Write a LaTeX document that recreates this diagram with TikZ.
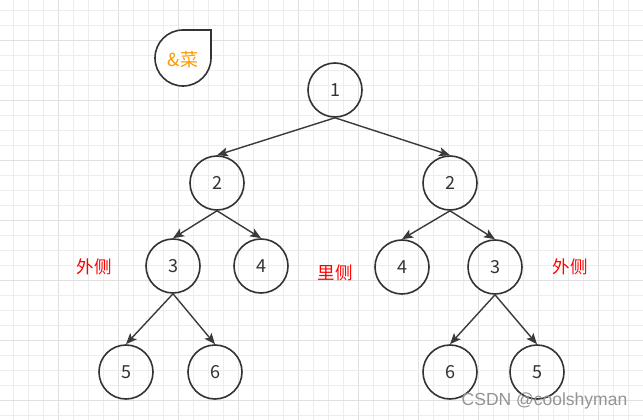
\documentclass[tikz,border=0pt]{standalone}
\usepackage{fontspec}
\setmainfont{Noto Sans CJK SC}
\newfontfamily\wmfont{Liberation Sans}
\usetikzlibrary{arrows.meta}
\definecolor{gridminor}{HTML}{EDEDED}
\definecolor{gridmajor}{HTML}{E0E0E0}
\definecolor{ink}{HTML}{333333}
\definecolor{edgeink}{HTML}{3A3A3A}
\definecolor{orangetxt}{HTML}{FF9900}
\tikzset{
  tnode/.style={circle, draw=ink, line width=1.6pt, minimum size=54pt, inner sep=0pt,
    font=\fontsize{18}{21}\selectfont, text=ink},
  conn/.style={draw=edgeink, line width=1.4pt, -{Stealth[length=11pt,width=9pt,inset=2.5pt]}},
  side/.style={text=red, font=\fontsize{17.5}{20}\selectfont},
}
\begin{document}
\begin{tikzpicture}[x=1pt,y=-1pt]
\useasboundingbox (0,0) rectangle (643,420);
\fill[white] (0,0) rectangle (643,420);
% grid
\foreach \k in {0,...,42} {
  \pgfmathsetmacro{\gx}{13.3+15*\k}
  \pgfmathtruncatemacro{\m}{mod(\k,4)}
  \ifnum\m=3 \draw[gridmajor, line width=0.8pt] (\gx,0) -- (\gx,420);
  \else \draw[gridminor, line width=0.8pt] (\gx,0) -- (\gx,420); \fi
}
\foreach \k in {0,...,27} {
  \pgfmathsetmacro{\gy}{10+15*\k}
  \pgfmathtruncatemacro{\m}{mod(\k,4)}
  \ifnum\m=2 \draw[gridmajor, line width=0.8pt] (0,\gy) -- (643,\gy);
  \else \draw[gridminor, line width=0.8pt] (0,\gy) -- (643,\gy); \fi
}
% drop shape
\draw[ink, line width=1.6pt, fill=white] (211,30) -- (211,58) arc (0:90:28) arc (90:180:28) arc (180:270:28) -- cycle;
\node[text=orangetxt, font=\fontsize{18}{21}\selectfont] (cai) at (183,60) {\&菜};
% tree nodes
\node[tnode] (n1) at (335,90) {1};
\node[tnode] (l2) at (217,183) {2};
\node[tnode] (r2) at (450,183) {2};
\node[tnode] (l3) at (173,266) {3};
\node[tnode] (l4) at (261,266) {4};
\node[tnode] (r4) at (402,267) {4};
\node[tnode] (r3) at (495,267) {3};
\node[tnode] (l5) at (126,372) {5};
\node[tnode] (l6) at (215,372) {6};
\node[tnode] (r6) at (450,372) {6};
\node[tnode] (r5) at (537,372) {5};
% connectors
\draw[conn] (n1.south) -- (l2.north);
\draw[conn] (n1.south) -- (r2.north);
\draw[conn] (l2.south) -- (l3.north);
\draw[conn] (l2.south) -- (l4.north);
\draw[conn] (r2.south) -- (r4.north);
\draw[conn] (r2.south) -- (r3.north);
\draw[conn] (l3.south) -- (l5.north);
\draw[conn] (l3.south) -- (l6.north);
\draw[conn] (r3.south) -- (r6.north);
\draw[conn] (r3.south) -- (r5.north);
% side labels
\node[side] (outl) at (94,267) {外侧};
\node[side] (mid) at (335,273) {里侧};
\node[side] (outr) at (570,267) {外侧};
% watermark
\node[text=black!42, font=\wmfont\fontsize{17.5}{20}\selectfont, inner sep=0pt] (wm) at (544.5,400.5) {CSDN @coolshyman};
\end{tikzpicture}
\end{document}
